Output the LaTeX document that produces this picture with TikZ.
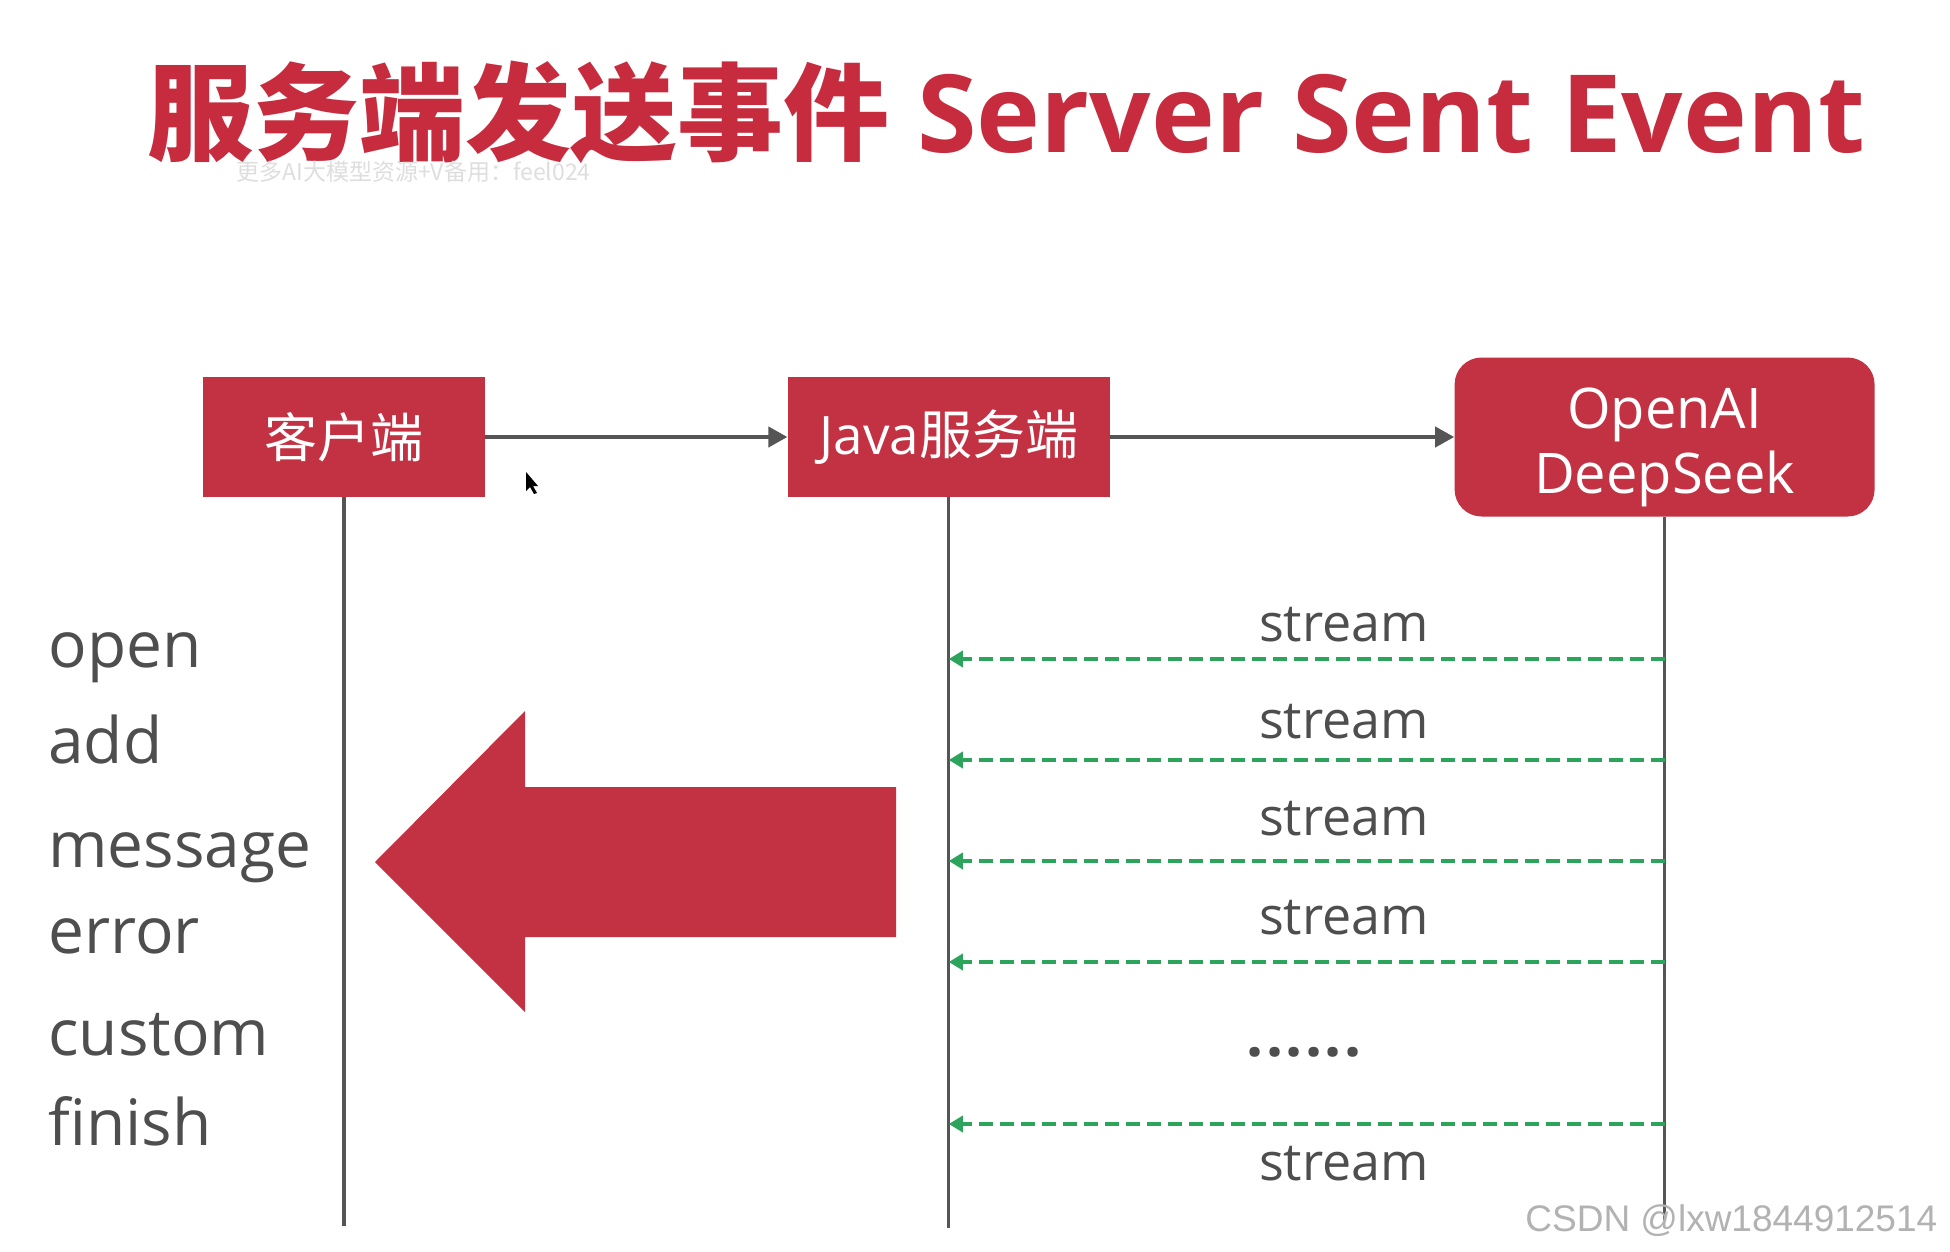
\documentclass[tikz,border=0pt]{standalone}
\usepackage{fontspec}
\setmainfont{Open Sans}
\newfontfamily\cjk{Noto Sans CJK SC}
\newfontfamily\wmfont{Liberation Sans}
\usetikzlibrary{arrows.meta,positioning}
\definecolor{slidered}{RGB}{198,44,62}
\definecolor{boxred}{RGB}{195,50,66}
\definecolor{linegray}{RGB}{85,85,85}
\definecolor{textgray}{RGB}{78,78,78}
\definecolor{streamgreen}{RGB}{44,164,92}
\tikzstyle{block} = [rectangle, fill=boxred, text=white, align=center, inner sep=0pt, minimum height=60pt, font=\fontsize{26.5}{32}\selectfont]
\tikzstyle{life} = [draw=linegray, line width=1.6pt]
\tikzstyle{call} = [draw=linegray, line width=2pt, -{Triangle[length=9.5pt,width=10pt]}]
\tikzstyle{ret} = [draw=streamgreen, line width=2pt, dash pattern=on 7pt off 3.5pt, -{Triangle[length=7pt,width=8pt]}]
\tikzstyle{evt} = [anchor=base west, text=textgray, inner sep=0pt, font=\fontsize{32}{38}\selectfont]
\tikzstyle{msg} = [anchor=base, text=textgray, inner sep=0pt, font=\fontsize{26}{32}\selectfont]

\begin{document}
\begin{tikzpicture}[x=0.5pt, y=-0.5pt]
    \fill[white] (0,0) rectangle (1950,1252);
    \useasboundingbox (0,0) rectangle (1950,1252);

    % 标题
    \node[anchor=base west, inner sep=0pt, text=slidered, font=\bfseries] (title) at (147,153)
        {{\cjk\fontsize{53}{60}\selectfont 服务端发送事件}\hspace{14pt}{\fontsize{54}{60}\selectfont Server Sent Event}};
    \node[anchor=west, inner sep=0pt, text=black!13, font=\cjk\fontsize{11.5}{14}\selectfont] (wm) at (236,172) {更多AI大模型资源+V备用：feel024};

    % 三个参与者
    \node[block, minimum width=141pt] (client) at (344,437) {\cjk 客户端};
    \node[block, minimum width=161pt, right=151pt of client] (java) {Java{\cjk 服务端}};
    \node[block, minimum width=210pt, minimum height=79.5pt, rounded corners=13.5pt, right=172pt of java,
        font=\fontsize{28}{32.5}\selectfont] (ai)
        {\raisebox{-5.5pt}[\height][\depth]{\begin{tabular}{@{}c@{}}OpenAI\\DeepSeek\end{tabular}}};

    % 生命线
    \coordinate (clientEnd) at (client.south |- 0,1226);
    \coordinate (javaEnd) at (java.south |- 0,1228);
    \coordinate (aiEnd) at (ai.south |- 0,1220);
    \draw[life] (client) -- (clientEnd);
    \draw[life] (java) -- (javaEnd);
    \draw[life] (ai) -- (aiEnd);

    % 请求
    \draw[call] (client) -- (java);
    \draw[call] (java) -- (ai);

    % 流式返回
    \foreach \y [count=\i] in {659,760,861,962,1124} {
        \coordinate (from\i) at (ai.south |- 0,\y);
        \coordinate (to\i) at (java.south |- 0,\y);
        \draw[ret] (from\i) -- (to\i);
    }
    \foreach \y [count=\i] in {641,738,835,934,1180}
        \node[msg] (stream\i) at (1344,\y) {stream};
    \node[msg, font=\fontsize{30}{36}\selectfont\bfseries\addfontfeature{LetterSpace=4}] (dots) at (1304,1056) {......};

    % 客户端事件
    \foreach \w/\y in {open/667, add/763, message/867, error/953, custom/1055, finish/1145}
        \node[evt] (\w) at (48,\y) {\w};

    % 推送给客户端
    \fill[boxred] (375,862) -- (525,711) -- (525,787) -- (896,787) -- (896,937) -- (525,937) -- (525,1012) -- cycle;

    % 鼠标
    \fill[black] (526,472) -- (526,491) -- (530,487) -- (534,494) -- (537,493) -- (533,486) -- (538,486) -- cycle;

    \node[anchor=base west, inner sep=0pt, text=black!30, font=\wmfont\fontsize{18.5}{22}\selectfont] (csdn) at (1525,1231) {CSDN @lxw1844912514};
\end{tikzpicture}
\end{document}
